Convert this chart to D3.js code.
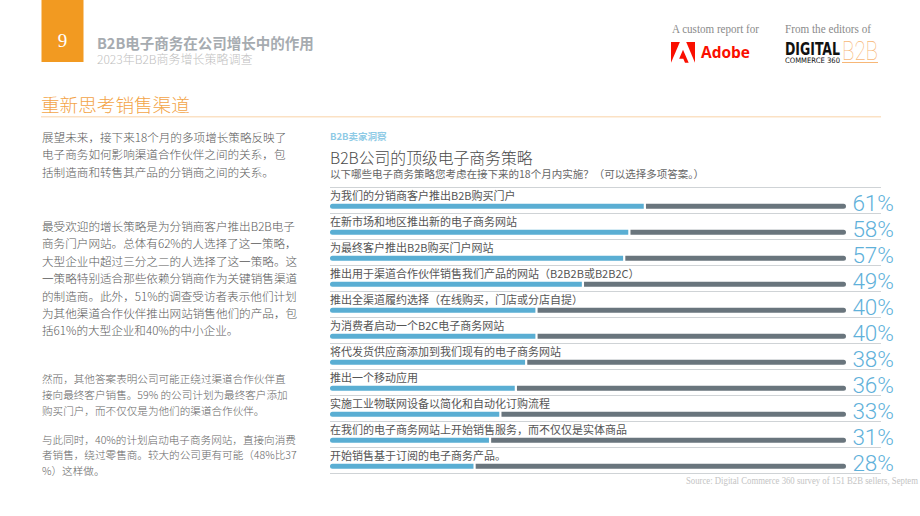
<!DOCTYPE html>
<html><head><meta charset="utf-8">
<script src="https://cdn.jsdelivr.net/npm/d3@7/dist/d3.min.js"></script>
<style>
html,body{margin:0;padding:0;background:#fff;}
svg{display:block;}
</style></head>
<body>
<svg id="c" width="920" height="516"></svg>
<script>
// ---- data ----
const categories = [
  "为我们的分销商客户推出B2B购买门户",
  "在新市场和地区推出新的电子商务网站",
  "为最终客户推出B2B购买门户网站",
  "推出用于渠道合作伙伴销售我们产品的网站（B2B2B或B2B2C）",
  "推出全渠道履约选择（在线购买，门店或分店自提）",
  "为消费者启动一个B2C电子商务网站",
  "将代发货供应商添加到我们现有的电子商务网站",
  "推出一个移动应用",
  "实施工业物联网设备以简化和自动化订购流程",
  "在我们的电子商务网站上开始销售服务，而不仅仅是实体商品",
  "开始销售基于订阅的电子商务产品。"
];
const values = [61, 58, 57, 49, 40, 40, 38, 36, 33, 31, 28];
const valueLabels = values.map(v => v + "%");

const para1 = ["展望未来，接下来18个月的多项增长策略反映了","电子商务如何影响渠道合作伙伴之间的关系，包","括制造商和转售其产品的分销商之间的关系。"];
const para2 = ["最受欢迎的增长策略是为分销商客户推出B2B电子","商务门户网站。总体有62%的人选择了这一策略，","大型企业中超过三分之二的人选择了这一策略。这","一策略特别适合那些依赖分销商作为关键销售渠道","的制造商。此外，51%的调查受访者表示他们计划","为其他渠道合作伙伴推出网站销售他们的产品，包","括61%的大型企业和40%的中小企业。"];
const para3 = ["然而，其他答案表明公司可能正绕过渠道合作伙伴直","接向最终客户销售。59% 的公司计划为最终客户添加","购买门户，而不仅仅是为他们的渠道合作伙伴。"];
const para4 = ["与此同时，40%的计划启动电子商务网站，直接向消费","者销售，绕过零售商。较大的公司更有可能（48%比37","%）这样做。"];

// ---- drawing ----
const svg = d3.select("#c");
const CJK = "'Noto Sans CJK SC', 'Noto Sans', sans-serif";
const SERIF = "'Liberation Serif', 'DejaVu Serif', serif";

// header
svg.append("rect").attr("x",41.5).attr("y",0).attr("width",42).attr("height",62).attr("fill","#f29a21");
svg.append("text").attr("x",62.5).attr("y",47).attr("text-anchor","middle")
  .attr("font-family",SERIF).attr("font-size",19).attr("fill","#fff").text("9");
svg.append("text").attr("x",97).attr("y",49).attr("font-family",CJK).attr("font-weight",700)
  .attr("font-size",14.5).attr("fill","#a6abb0").text("B2B电子商务在公司增长中的作用");
svg.append("text").attr("x",97).attr("y",63.5).attr("font-family",CJK).attr("font-weight",300)
  .attr("font-size",12).attr("fill","#c0c0c0").text("2023年B2B商务增长策略调查");

// logos
svg.append("text").attr("x",672).attr("y",33).attr("font-family",SERIF).attr("font-size",11.5)
  .attr("fill","#8a8a8a").attr("textLength",87).attr("lengthAdjust","spacingAndGlyphs").text("A custom report for");
svg.append("text").attr("x",785).attr("y",33).attr("font-family",SERIF).attr("font-size",11.5)
  .attr("fill","#8a8a8a").attr("textLength",86).attr("lengthAdjust","spacingAndGlyphs").text("From the editors of");
const adobe = svg.append("g").attr("transform","translate(671,42) scale(0.8)").attr("fill","#fa0f00");
adobe.append("path").attr("d","M19 0h11v26z");
adobe.append("path").attr("d","M11.1 0H0v26z");
adobe.append("path").attr("d","M15 9.6 22.1 26h-4.6l-2.1-5.2h-5.2z");
svg.append("text").attr("x",701).attr("y",58).attr("font-family","'Open Sans', sans-serif").attr("font-weight",700)
  .attr("font-size",16.5).attr("fill","#fa0f00").attr("textLength",49).attr("lengthAdjust","spacingAndGlyphs").text("Adobe");
svg.append("text").attr("x",785).attr("y",55).attr("font-family","'DejaVu Sans Condensed', 'DejaVu Sans', sans-serif")
  .attr("font-weight",700).attr("font-size",17).attr("fill","#111").attr("textLength",55).attr("lengthAdjust","spacingAndGlyphs").text("DIGITAL");
svg.append("text").attr("x",785).attr("y",63).attr("font-family","'DejaVu Sans Condensed', 'DejaVu Sans', sans-serif")
  .attr("font-size",7.5).attr("fill","#111").attr("textLength",55).attr("lengthAdjust","spacingAndGlyphs").text("COMMERCE 360");
svg.append("text").attr("x",842).attr("y",60).attr("font-family","Roboto, sans-serif").attr("font-weight",100)
  .attr("font-size",26).attr("fill","#f7b777").attr("textLength",36).attr("lengthAdjust","spacingAndGlyphs").text("B2B");
svg.append("line").attr("x1",842).attr("x2",878).attr("y1",62.5).attr("y2",62.5).attr("stroke","#f7b777").attr("stroke-width",1);

// section heading
svg.append("text").attr("x",41).attr("y",112).attr("font-family",CJK).attr("font-weight",300)
  .attr("font-size",18.6).attr("fill","#f3a447").text("重新思考销售渠道");
svg.append("line").attr("x1",41).attr("x2",881).attr("y1",116.7).attr("y2",116.7).attr("stroke","#fbe1c4").attr("stroke-width",1.5);

// left column text
function para(lines, y0, step, size, color){
  svg.append("g").selectAll("text").data(lines).join("text")
    .attr("x",42).attr("y",(d,i)=>y0+i*step)
    .attr("font-family",CJK).attr("font-weight",300).attr("font-size",size).attr("fill",color).text(d=>d);
}
para(para1, 141.5, 17.5, 11.6, "#5a5a5a");
para(para2, 231, 17.4, 11.6, "#5a5a5a");
para(para3, 382.5, 16, 10.6, "#666");
para(para4, 443.5, 15.5, 10.6, "#666");

// chart
const x = d3.scaleLinear().domain([0,100]).range([330,846]);
const y = d3.scaleBand().domain(d3.range(categories.length)).range([187.5, 187.5+26*categories.length]);
const BLUE = "#5aaed3", GRAY = "#69757d";

svg.append("text").attr("x",330).attr("y",140).attr("font-family",CJK).attr("font-weight",700)
  .attr("font-size",9.5).attr("fill","#8fcbe6").text("B2B卖家洞察");
svg.append("text").attr("x",330).attr("y",163.5).attr("font-family",CJK).attr("font-weight",300)
  .attr("font-size",15.8).attr("fill","#4a4a4a").text("B2B公司的顶级电子商务策略");
svg.append("text").attr("x",330).attr("y",177.5).attr("font-family",CJK)
  .attr("font-size",10.5).attr("fill","#666").text("以下哪些电子商务策略您考虑在接下来的18个月内实施？（可以选择多项答案。）");

// separator lines
svg.append("g").selectAll("line").data(d3.range(categories.length+1)).join("line")
  .attr("x1",330).attr("x2",881)
  .attr("y1",i=>187.5+26*i).attr("y2",i=>187.5+26*i)
  .attr("stroke","#cfd3d6").attr("stroke-width",1.2);

function roundedBar(x0,x1,yy,h,leftRound,rightRound){
  const r=h/2;
  const p=d3.path();
  if(leftRound){p.moveTo(x0+r,yy);}else{p.moveTo(x0,yy);}
  if(rightRound){p.lineTo(x1-r,yy);p.arc(x1-r,yy+r,r,-Math.PI/2,Math.PI/2);}
  else{p.lineTo(x1,yy);p.lineTo(x1,yy+h);}
  if(leftRound){p.lineTo(x0+r,yy+h);p.arc(x0+r,yy+r,r,Math.PI/2,Math.PI*1.5);}
  else{p.lineTo(x0,yy+h);}
  p.closePath();
  return p.toString();
}

const rows = svg.append("g").selectAll("g").data(values).join("g")
  .attr("transform",(d,i)=>`translate(0,${y(i)})`);
rows.append("text").attr("x",330).attr("y",12.5).attr("font-family",CJK)
  .attr("font-size",11).attr("fill","#555").text((d,i)=>categories[i]);
rows.append("path").attr("fill",BLUE).attr("d",d=>roundedBar(x(0),x(d)-1,16.3,5,true,false));
rows.append("path").attr("fill",GRAY).attr("d",d=>roundedBar(x(d)+1.2,x(100),16.3,5,false,true));
rows.append("text").attr("x",894).attr("y",23.2).attr("text-anchor","end")
  .attr("font-family","Roboto, sans-serif").attr("font-weight",300).attr("font-size",22.5)
  .attr("fill","#5fb1da").text((d,i)=>valueLabels[i]);

svg.append("text").attr("x",686).attr("y",484).attr("font-family",SERIF).attr("font-size",9.3)
  .attr("fill","#c4c4c4").attr("textLength",232).attr("lengthAdjust","spacingAndGlyphs")
  .text("Source: Digital Commerce 360 survey of 151 B2B sellers, Septem");
</script>
</body></html>
